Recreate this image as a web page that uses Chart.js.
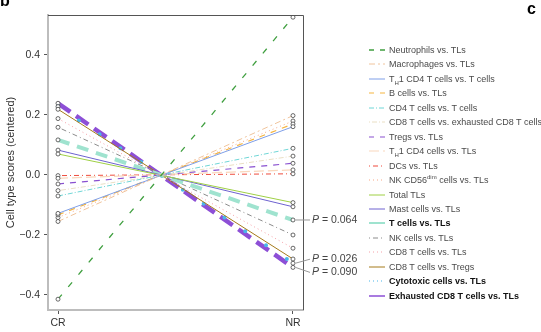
<!DOCTYPE html>
<html><head><meta charset="utf-8">
<script src="https://cdn.jsdelivr.net/npm/chart.js@4/dist/chart.umd.min.js"></script>
<style>
html,body{margin:0;padding:0;background:#fff;}
#wrap{position:relative;width:541px;height:332px;overflow:hidden;font-family:"Liberation Sans",Arial,sans-serif;}
#c{position:absolute;left:0;top:0;}
.panel{position:absolute;font-weight:bold;font-size:16px;color:#000;}
#legend{position:absolute;left:367px;top:43px;}
.row{position:absolute;left:0;height:14px;white-space:nowrap;font-size:9px;color:#4a4a4a;line-height:14px;}
.row svg{position:absolute;left:0;top:2px;}
.row span{position:absolute;left:22px;top:0;}
.row.b span{font-weight:bold;color:#111;}
sub,sup{font-size:6px;line-height:0;}
</style></head>
<body><div id="wrap">
<canvas id="c" width="541" height="332"></canvas>
<div class="panel" style="left:0;top:-8px;">b</div>
<div class="panel" style="left:527px;top:0px;">c</div>
<div id="legend"></div>
</div>
<script>
// ---------- data ----------
const categories = ['CR', 'NR'];
const seriesNames = [
  'Neutrophils vs. TLs',
  'Macrophages vs. TLs',
  'T<sub>H</sub>1 CD4 T cells vs. T cells',
  'B cells vs. TLs',
  'CD4 T cells vs. T cells',
  'CD8 T cells vs. exhausted CD8 T cells',
  'Tregs vs. TLs',
  'T<sub>H</sub>1 CD4 cells vs. TLs',
  'DCs vs. TLs',
  'NK CD56<sup>dim</sup> cells vs. TLs',
  'Total TLs',
  'Mast cells vs. TLs',
  'T cells vs. TLs',
  'NK cells vs. TLs',
  'CD8 T cells vs. TLs',
  'CD8 T cells vs. Tregs',
  'Cytotoxic cells vs. TLs',
  'Exhausted CD8 T cells vs. TLs'
];
const crScores = [-0.414, -0.155, -0.128, -0.133, -0.070, -0.052, -0.030, -0.011, -0.002, -0.142,
                   0.070, 0.083, 0.117, 0.159, 0.188, 0.219, 0.228, 0.239];
const nrScores = [ 0.526, 0.198, 0.161, 0.170, 0.089, 0.063, 0.039, 0.017, 0.004, 0.180,
                  -0.092, -0.106, -0.150, -0.200, -0.244, -0.280, -0.294, -0.308];
const yTickValues = [-0.4, -0.2, 0.0, 0.2, 0.4];
const pSeries = [12, 16, 17];
const pValues = ['0.064', '0.026', '0.090'];

// ---------- styles ----------
const styles = [
  {c:'#3f9f3f', w:1.3, d:[6,10], ld:[5,6]},
  {c:'#f0c49c', w:1, d:[6,3,2,3]},
  {c:'#7f9fe8', w:1, d:[]},
  {c:'#f5b540', w:1.2, d:[6,6], ld:[5,6]},
  {c:'#6fd6d6', w:1, d:[5,2,1,2]},
  {c:'#eadfc4', w:1, d:[1,2,5,2]},
  {c:'#8950d0', w:1.2, d:[6,6], ld:[5,6]},
  {c:'#f9d7bd', w:1.2, d:[10,4]},
  {c:'#ef4b3c', w:1, d:[1,3,5,3]},
  {c:'#f8a785', w:1, d:[1,3]},
  {c:'#9fd045', w:1, d:[]},
  {c:'#6e62d0', w:1, d:[]},
  {c:'#9fe3cf', w:4, d:[12,8], lw:2, ld:[]},
  {c:'#8c8c8c', w:1, d:[1,3,5,3]},
  {c:'#f5a0a8', w:1, d:[1,3]},
  {c:'#a57a1a', w:1, d:[]},
  {c:'#4ab5ea', w:4, d:[0,25], cap:'round', lw:1.2, ld:[1,3]},
  {c:'#8d4fd6', w:4.5, d:[15,7], lw:1.5, ld:[]}
];
const boldRows = [12, 16, 17];

const datasets = seriesNames.map((n, i) => ({
  label: n,
  data: [{x:0, y:crScores[i]}, {x:1, y:nrScores[i]}],
  borderColor: styles[i].c,
  borderWidth: styles[i].w,
  borderDash: styles[i].d,
  borderCapStyle: styles[i].cap || 'butt',
  pointRadius: 2,
  pointBorderWidth: 0.8,
  pointBorderColor: '#444',
  pointBackgroundColor: '#fff',
  fill: false
}));

// ---------- legend ----------
const leg = document.getElementById('legend');
seriesNames.forEach((n, i) => {
  const s = styles[i];
  const row = document.createElement('div');
  row.className = 'row' + (boldRows.includes(i) ? ' b' : '');
  row.style.top = (i * 14.45) + 'px';
  const lw = s.lw !== undefined ? s.lw : s.w;
  const ld = s.ld !== undefined ? s.ld : s.d;
  row.innerHTML = '<svg width="20" height="10"><line x1="2" y1="5" x2="18" y2="5" stroke="' + s.c +
    '" stroke-width="' + lw + '" stroke-dasharray="' + (ld.length ? ld.join(',') : 'none') + '"/></svg><span>' + n + '</span>';
  leg.appendChild(row);
});

// ---------- plugins ----------
const framePlugin = {
  id: 'frame',
  afterDraw(chart) {
    const {ctx, chartArea: a} = chart;
    ctx.save();
    ctx.strokeStyle = '#555';
    ctx.lineWidth = 1;
    ctx.beginPath();
    ctx.moveTo(a.left, a.top + 0.5);
    ctx.lineTo(a.right + 0.5, a.top + 0.5);
    ctx.lineTo(a.right + 0.5, a.bottom);
    ctx.stroke();
    // P annotations
    const offs = [0, -4, 5];
    ctx.textBaseline = 'middle';
    pSeries.forEach((si, k) => {
      const xs = chart.scales.x.getPixelForValue(1);
      const ys = chart.scales.y.getPixelForValue(nrScores[si]);
      const tx = a.right + 9;
      const ty = ys + offs[k];
      ctx.strokeStyle = '#999';
      ctx.beginPath();
      ctx.moveTo(xs + 2.5, ys);
      ctx.lineTo(tx - 2, ty);
      ctx.stroke();
      ctx.fillStyle = '#444';
      ctx.font = 'italic 10.5px "Liberation Sans", Arial, sans-serif';
      ctx.fillText('P', tx, ty);
      const w = ctx.measureText('P').width;
      ctx.font = '10.5px "Liberation Sans", Arial, sans-serif';
      ctx.fillText(' = ' + pValues[k], tx + w, ty);
    });
    ctx.restore();
  }
};

new Chart(document.getElementById('c'), {
  type: 'line',
  data: { datasets },
  options: {
    responsive: false,
    animation: false,
    devicePixelRatio: 1,
    layout: { padding: { left: 0, top: 15, right: 238, bottom: 0 } },
    plugins: { legend: { display: false }, tooltip: { enabled: false } },
    scales: {
      x: {
        type: 'linear', min: -0.0426, max: 1.0426,
        afterFit: s => { s.height = 22; },
        afterBuildTicks: s => { s.ticks = categories.map((c, i) => ({value: i})); },
        ticks: { callback: v => categories[Math.round(v)], color: '#333', padding: 3,
                 font: { size: 10.5, family: '"Liberation Sans", Arial, sans-serif' }, maxRotation: 0 },
        grid: { drawOnChartArea: false, drawTicks: true, tickLength: 4, color: '#555' },
        border: { display: true, color: '#bdbdbd', width: 2 }
      },
      y: {
        type: 'linear', min: -0.45, max: 0.5333,
        afterFit: s => { s.width = 48; },
        afterBuildTicks: s => { s.ticks = yTickValues.map(v => ({value: v})); },
        ticks: { callback: v => (v < -1e-9 ? '\u2212' : '') + Math.abs(v).toFixed(1), color: '#333', padding: 4,
                 font: { size: 10.5, family: '"Liberation Sans", Arial, sans-serif' } },
        title: { display: true, text: 'Cell type scores (centered)', color: '#333', padding: {top: 4, bottom: 0},
                 font: { size: 11, family: '"Liberation Sans", Arial, sans-serif' } },
        grid: { drawOnChartArea: false, drawTicks: true, tickLength: 4, color: '#555' },
        border: { display: true, color: '#bdbdbd', width: 2 }
      }
    }
  },
  plugins: [framePlugin]
});
</script>
</body></html>
